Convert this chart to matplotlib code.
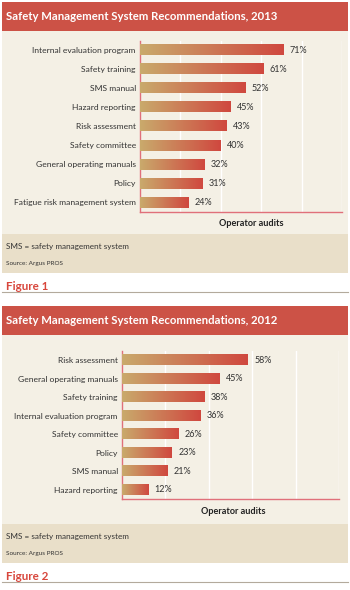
import numpy as np
import matplotlib
matplotlib.use("Agg")
import matplotlib.pyplot as plt
from matplotlib.patches import Rectangle
from matplotlib.colors import LinearSegmentedColormap

plt.rcParams['font.family'] = ['Lato', 'DejaVu Sans']

# data
labels_2013 = ['Internal evaluation program', 'Safety training', 'SMS manual',
               'Hazard reporting', 'Risk assessment', 'Safety committee',
               'General operating manuals', 'Policy', 'Fatigue risk management system']
values_2013 = [71, 61, 52, 45, 43, 40, 32, 31, 24]

labels_2012 = ['Risk assessment', 'General operating manuals', 'Safety training',
               'Internal evaluation program', 'Safety committee', 'Policy',
               'SMS manual', 'Hazard reporting']
values_2012 = [58, 45, 38, 36, 26, 23, 21, 12]

titles = ['Safety Management System Recommendations, 2013',
          'Safety Management System Recommendations, 2012']
fig_labels = ['Figure 1', 'Figure 2']

W, H = 350, 590
HEADER = '#cc5246'
CREAM = '#f4f0e5'
BAND = '#e9dfc9'
SPINE = '#e0707a'
FIGRED = '#d8463c'
grad = LinearSegmentedColormap.from_list('g', ['#c9aa6c', '#d0483f'])

fig = plt.figure(figsize=(W / 100, H / 100), dpi=100)
fig.patch.set_facecolor('white')


def fx(px):
    return px / W


def fy(py):
    return 1 - py / H


def rect(x0, y0, x1, y1, color):
    fig.patches.append(Rectangle((fx(x0), fy(y1)), fx(x1) - fx(x0), fy(y0) - fy(y1),
                                 transform=fig.transFigure, color=color, zorder=-5, lw=0))


def panel(top, cream_end, band_top, ax_box, labels, values, title, figlab, xlab_x):
    # header, background, footnote band
    rect(2, top, 348, top + 29, HEADER)
    rect(2, top + 29, 348, cream_end, CREAM)
    rect(2, band_top, 348, cream_end, BAND)
    fig.text(fx(6), fy(top + 15), title, color='white', fontsize=8.2,
             fontweight='bold', va='center', ha='left')
    fig.text(fx(6), fy(band_top + 13), 'SMS = safety management system',
             fontsize=5.9, color='#333333', va='center')
    fig.text(fx(6), fy(band_top + 29), 'Source: Argus PROS',
             fontsize=4.6, color='#333333', va='center')
    fig.text(fx(6), fy(cream_end + 14), figlab, fontsize=8.4, fontweight='bold',
             color=FIGRED, va='center')
    fig.add_artist(plt.Line2D([fx(2), fx(348)], [fy(cream_end + 19)] * 2,
                              color='#b3aa9c', lw=0.8, transform=fig.transFigure))

    l, r, t, b = ax_box
    ax = fig.add_axes([fx(l), fy(b), fx(r) - fx(l), fy(t) - fy(b)])
    ax.set_zorder(2)
    ax.set_facecolor('none')
    n = len(values)
    ypos = np.arange(n)
    h = 0.55
    g = np.linspace(0, 1, 256).reshape(1, -1)
    for y, v in zip(ypos, values):
        ax.imshow(g, cmap=grad, extent=[0, v, y + h / 2, y - h / 2],
                  aspect='auto', zorder=3)
        ax.text(v + 3, y, f'{v}%', va='center', ha='left', fontsize=6.5,
                color='#333333')
    ax.set_xlim(0, 100)
    ax.set_ylim(n - 0.5, -0.5)
    ax.set_xticks([20, 40, 60, 80, 100])
    ax.xaxis.grid(True, color='white', lw=1.0)
    ax.set_axisbelow(True)
    ax.tick_params(axis='x', length=0, labelbottom=False)
    ax.tick_params(axis='y', length=0, pad=3)
    ax.set_yticks(ypos)
    ax.set_yticklabels(labels, fontsize=6.1, color='#333333')
    for s in ['top', 'right']:
        ax.spines[s].set_visible(False)
    ax.spines['left'].set_color(SPINE)
    ax.spines['bottom'].set_color(SPINE)
    ax.spines['left'].set_linewidth(1.0)
    ax.spines['bottom'].set_linewidth(1.0)
    fig.text(fx(xlab_x), fy(b + 12), 'Operator audits', fontsize=6.6,
             fontweight='bold', ha='center', va='center', color='#222222')


panel(2, 273, 234, (140, 342, 40.5, 212), labels_2013, values_2013,
      titles[0], fig_labels[0], 251)
panel(306, 563, 524, (122, 339, 351, 499), labels_2012, values_2012,
      titles[1], fig_labels[1], 233)

fig.savefig('out.png', dpi=100, facecolor='white')
